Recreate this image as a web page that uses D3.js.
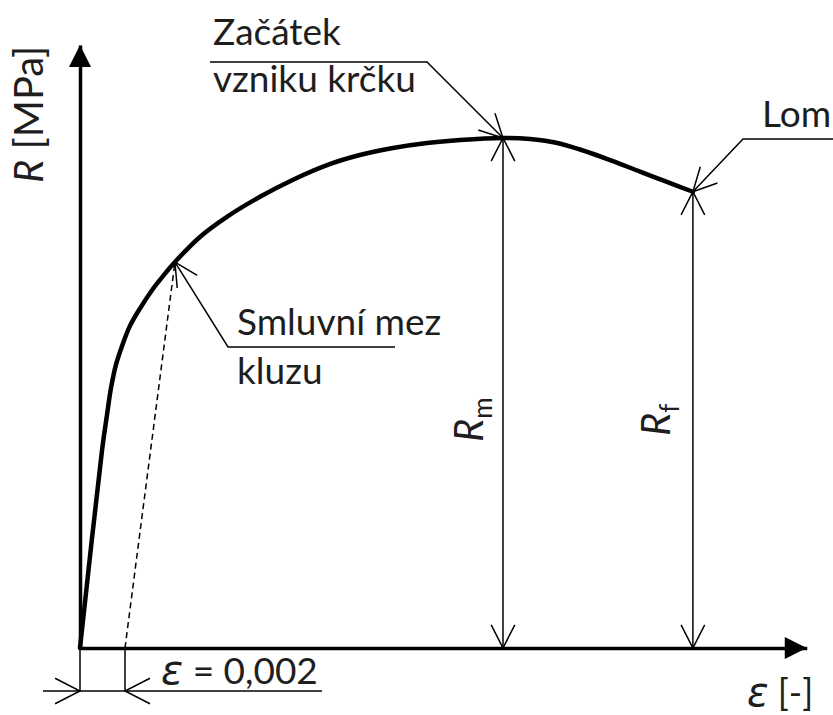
<!DOCTYPE html>
<html><head><meta charset="utf-8">
<script src="https://cdn.jsdelivr.net/npm/d3@7"></script>
<style>
html,body{margin:0;padding:0;background:#fff;}
text{font-family:Lato,"Open Sans",sans-serif;fill:#1e1e1e;}
.greek{font-family:"DejaVu Sans","Noto Sans",sans-serif;font-style:italic;}
</style></head><body>
<svg id="chart" width="833" height="715"></svg>
<script>
// ---- data (engineering stress–strain diagram, schematic) ----
const strain = [0, 0.00098, 0.0012, 0.00138, 0.0016, 0.00187, 0.00222, 0.00267, 0.0032, 0.00369,
  0.00422, 0.00533, 0.00653, 0.008, 0.00947, 0.01098, 0.01244, 0.01391, 0.01542, 0.01689,
  0.0188, 0.02, 0.02111, 0.02222, 0.02356, 0.02489, 0.026, 0.02724];
const stress = [0, 197, 232, 259, 282, 300.5, 320.5, 338, 356, 370,
  384, 409, 429, 449, 466, 480.5, 490.5, 497.5, 502.5, 505.5,
  507.5, 506.5, 503, 496, 485.5, 474, 464.5, 454];
const yieldPoint = [0.00422, 384];      // Smluvní mez kluzu
const offsetStrain = 0.002;             // ε = 0,002
const ultimatePoint = [0.0188, 507.5];  // Rm
const fracturePoint = [0.02724, 454];   // Rf
const domainX = [0, 0.0323];
const domainY = [0, 600];
const labelNeck = ["Začátek", "vzniku krčku"];
const labelYield = ["Smluvní mez", "kluzu"];
const labelFracture = "Lom";
const axisLabelY = ["R", " [MPa]"];
const axisLabelX = ["ε", " [-]"];
const offsetLabel = ["ε", " = 0,002"];

// ---- drawing ----
const svg = d3.select("#chart");
const x = d3.scaleLinear().domain(domainX).range([80, 806.75]);
const y = d3.scaleLinear().domain(domainY).range([648, 45]);

function openArrow(g, tip, from, len = 26, angDeg = 27) {
  const dx = from[0] - tip[0], dy = from[1] - tip[1];
  const L = Math.hypot(dx, dy), ux = dx / L, uy = dy / L;
  const a = angDeg * Math.PI / 180;
  const r = s => [tip[0] + len * (ux * Math.cos(s) - uy * Math.sin(s)),
                  tip[1] + len * (ux * Math.sin(s) + uy * Math.cos(s))];
  const p1 = r(a), p2 = r(-a);
  g.append("path").attr("d", `M${p1}L${tip}L${p2}`)
    .attr("fill", "none").attr("stroke", "#000").attr("stroke-width", 1.5);
}
const thin = (g, pts) => g.append("path").attr("d", d3.line()(pts))
  .attr("fill", "none").attr("stroke", "#000").attr("stroke-width", 1.5);

// axes
svg.append("g").attr("transform", `translate(0,${y(0)})`)
  .call(d3.axisBottom(x).tickValues([]).tickSizeOuter(0));
svg.append("g").attr("transform", `translate(${x(0)},0)`)
  .call(d3.axisLeft(y).tickValues([]).tickSizeOuter(0));
svg.selectAll(".domain").attr("stroke", "#000").attr("stroke-width", 3.5);
const xEnd = x(domainX[1]), yEnd = y(domainY[1]);
svg.append("path").attr("d", `M${xEnd},${y(0)}L${xEnd - 22},${y(0) - 11}L${xEnd - 22},${y(0) + 11}Z`).attr("fill", "#000");
svg.append("path").attr("d", `M${x(0)},${yEnd}L${x(0) - 11},${yEnd + 22}L${x(0) + 11},${yEnd + 22}Z`).attr("fill", "#000");

const ann = svg.append("g");
// offset line (dashed)
ann.append("path").attr("d", d3.line()([[x(offsetStrain), y(0)], [x(yieldPoint[0]), y(yieldPoint[1])]]))
  .attr("stroke", "#000").attr("stroke-width", 1.5).attr("stroke-dasharray", "6,4").attr("fill", "none");

// curve
svg.append("path")
  .datum(strain.map((e, i) => [e, stress[i]]))
  .attr("d", d3.line().x(d => x(d[0])).y(d => y(d[1])).curve(d3.curveCatmullRom.alpha(0.5)))
  .attr("fill", "none").attr("stroke", "#000").attr("stroke-width", 4.5)
  .attr("stroke-linejoin", "round").attr("stroke-linecap", "round");

// Rm and Rf dimension arrows
[ultimatePoint, fracturePoint].forEach(p => {
  const top = [x(p[0]), y(p[1])], bot = [x(p[0]), y(0)];
  thin(ann, [top, bot]);
  openArrow(ann, top, bot);
  openArrow(ann, bot, top);
});

// ε = 0,002 dimension
const dimY = 691;
thin(ann, [[x(0), y(0)], [x(0), dimY]]);
thin(ann, [[x(offsetStrain), y(0)], [x(offsetStrain), dimY]]);
thin(ann, [[43, dimY], [322, dimY]]);
openArrow(ann, [x(0), dimY], [x(0) - 40, dimY], 28);
openArrow(ann, [x(offsetStrain), dimY], [x(offsetStrain) + 40, dimY], 28);

// leaders
const neckTip = [x(ultimatePoint[0]), y(ultimatePoint[1])];
thin(ann, [[210, 62], [427, 62], neckTip]);
openArrow(ann, neckTip, [427, 62]);
const lomTip = [x(fracturePoint[0]), y(fracturePoint[1])];
thin(ann, [[833, 139], [743, 139], lomTip]);
openArrow(ann, lomTip, [743, 139]);
const yTip = [x(yieldPoint[0]), y(yieldPoint[1])];
thin(ann, [[395, 347], [228, 347], yTip]);
openArrow(ann, yTip, [228, 347]);

// texts
const fs = 37;
const T = (tx, ty, str) => svg.append("text").attr("x", tx).attr("y", ty)
  .attr("font-size", fs).text(str);
T(213, 45, labelNeck[0]);
T(213, 92, labelNeck[1]);
T(237, 335, labelYield[0]);
T(237, 384, labelYield[1]);
T(762, 127, labelFracture);

const t1 = svg.append("text").attr("x", 161).attr("y", 684).attr("font-size", fs);
t1.append("tspan").attr("class", "greek").attr("font-size", 41).text(offsetLabel[0]);
t1.append("tspan").text(offsetLabel[1]);

const t2 = svg.append("text").attr("x", 747).attr("y", 706).attr("font-size", 36);
t2.append("tspan").attr("class", "greek").attr("font-size", 40).text(axisLabelX[0]);
t2.append("tspan").text(axisLabelX[1]);

const t3 = svg.append("text").attr("transform", "translate(43,183) rotate(-90)").attr("font-size", 40);
t3.append("tspan").attr("font-style", "italic").text(axisLabelY[0]);
t3.append("tspan").text(axisLabelY[1]);

[[483, 442, "m"], [670, 436, "f"]].forEach(([tx, ty, sub]) => {
  const t = svg.append("text").attr("transform", `translate(${tx},${ty}) rotate(-90)`).attr("font-size", 40);
  t.append("tspan").attr("font-style", "italic").text("R");
  t.append("tspan").attr("font-size", 26).attr("dy", 9).text(sub);
});
</script>
</body></html>
